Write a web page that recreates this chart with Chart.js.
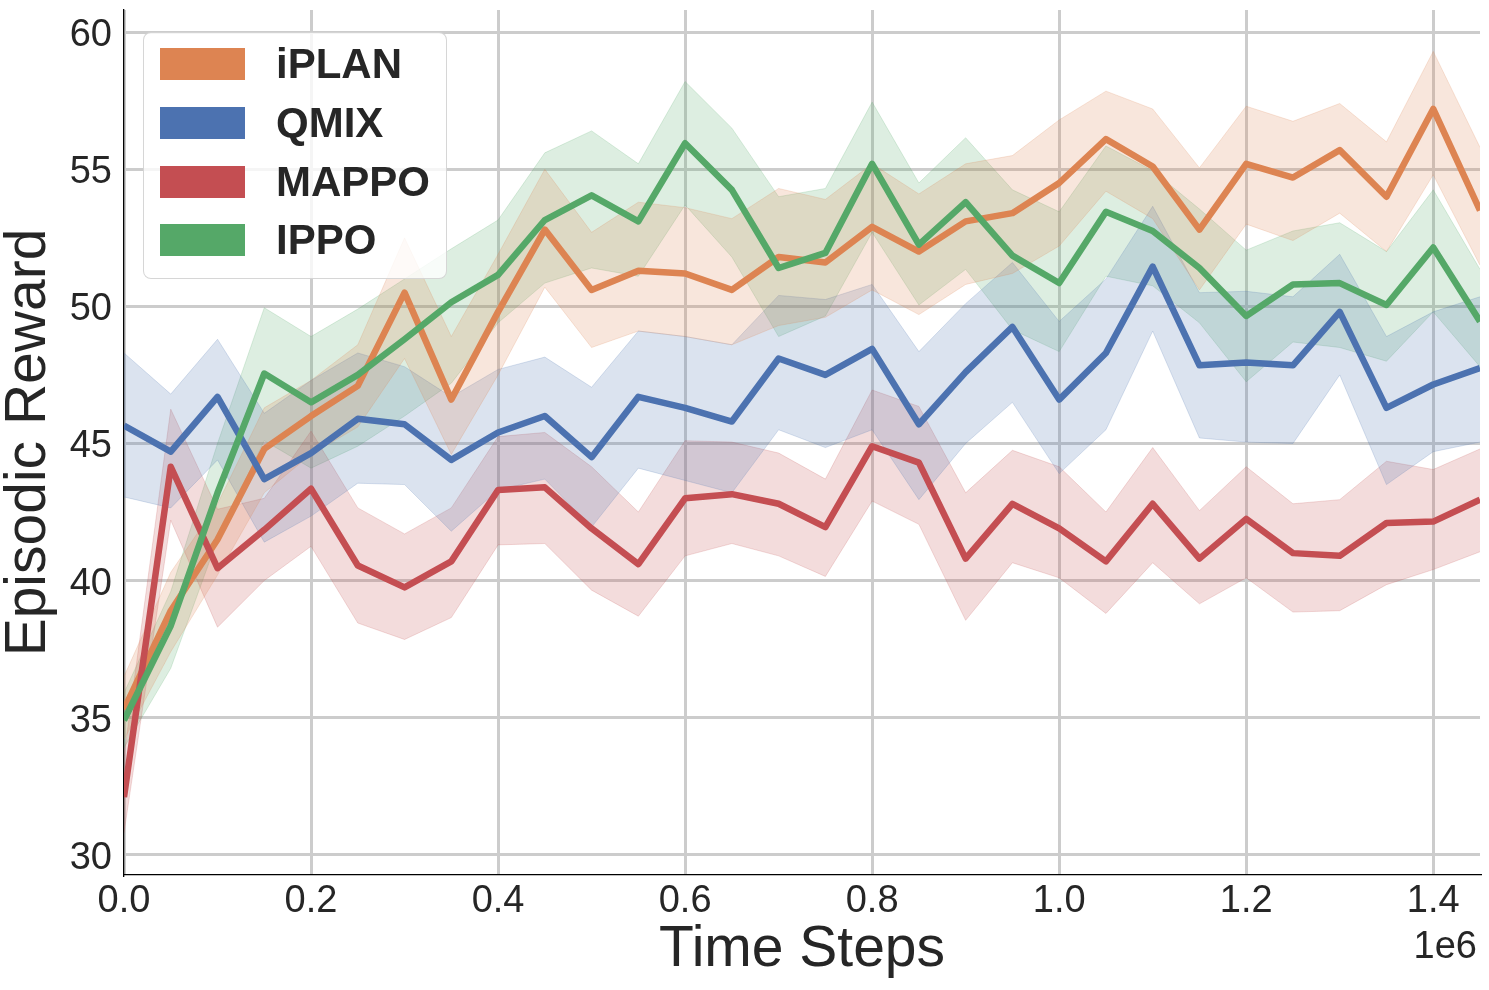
<!DOCTYPE html>
<html>
<head>
<meta charset="utf-8">
<title>Episodic Reward</title>
<script src="https://cdn.jsdelivr.net/npm/chart.js@4.4.1/dist/chart.umd.min.js"></script>
<style>
  html, body { margin: 0; padding: 0; background: #fff; }
  #wrap { position: relative; width: 1489px; height: 990px; }
  #legend {
    position: absolute; left: 143px; top: 32px; width: 302px; height: 245px;
    box-sizing: content-box; padding: 0;
    background: rgba(255,255,255,0.8);
    border: 1px solid rgba(204,204,204,0.8); border-radius: 8px;
    font-family: 'Liberation Sans', Arial, Helvetica, sans-serif;
  }
  .row { position: absolute; left: 0; height: 32px; display: flex; align-items: center; }
  .patch { width: 85px; height: 32px; margin-left: 16px; }
  .lab { margin-left: 31px; font-size: 42px; font-weight: bold; color: #262626; line-height: 32px; }
</style>
</head>
<body>
<div id="wrap">
  <canvas id="chart" width="1489" height="990"></canvas>
  <div id="legend"></div>
</div>
<script>
const FONT = "'Liberation Sans', Arial, Helvetica, sans-serif";

const timeSteps = [0, 50000, 100000, 150000, 200000, 250000, 300000, 350000, 400000, 450000,
  500000, 550000, 600000, 650000, 700000, 750000, 800000, 850000, 900000, 950000,
  1000000, 1050000, 1100000, 1150000, 1200000, 1250000, 1300000, 1350000, 1400000, 1450000];

const seriesNames = ['iPLAN', 'QMIX', 'MAPPO', 'IPPO'];
const lineColors = ['#DD8452', '#4C72B0', '#C44E52', '#55A868'];
const bandColors = ['rgba(221,132,82,0.2)', 'rgba(76,114,176,0.2)', 'rgba(196,78,82,0.2)', 'rgba(85,168,104,0.2)'];

const iplanMean = [35.3, 38.9, 41.5, 44.8, 46.0, 47.1, 50.5, 46.6, 49.8, 52.8,
  50.6, 51.3, 51.2, 50.6, 51.8, 51.6, 52.9, 52.0, 53.1, 53.4,
  54.5, 56.1, 55.1, 52.8, 55.2, 54.7, 55.7, 54.0, 57.2, 53.5];
const iplanUpper = [36.5, 40.3, 42.8, 46.3, 47.3, 48.6, 52.5, 48.9, 51.9, 55.0,
  52.7, 53.8, 53.6, 53.2, 54.3, 53.9, 55.2, 54.1, 55.2, 55.5,
  56.8, 57.85, 57.2, 55.05, 57.3, 56.75, 57.4, 56.0, 59.3, 55.8];
const iplanLower = [34.2, 37.4, 40.2, 43.2, 44.6, 45.6, 48.1, 44.6, 47.5, 50.7,
  48.5, 49.1, 48.9, 48.6, 49.3, 49.6, 50.6, 49.7, 50.8, 51.2,
  52.2, 54.2, 53.2, 50.6, 53.0, 52.4, 53.4, 52.0, 54.8, 51.5];

const qmixMean = [45.65, 44.7, 46.7, 43.7, 44.65, 45.9, 45.7, 44.4, 45.4, 46.0,
  44.5, 46.7, 46.3, 45.8, 48.1, 47.5, 48.45, 45.7, 47.6, 49.25,
  46.6, 48.3, 51.45, 47.85, 47.95, 47.85, 49.8, 46.3, 47.15, 47.75];
const qmixUpper = [48.3, 46.8, 48.8, 46.1, 47.3, 48.3, 47.8, 46.7, 47.7, 48.15,
  47.05, 49.1, 48.9, 48.6, 50.4, 50.25, 50.8, 48.35, 50.1, 51.6,
  49.45, 51.0, 53.65, 50.5, 50.55, 50.35, 51.9, 48.9, 49.8, 50.35];
const qmixLower = [43.05, 42.65, 44.4, 41.4, 42.35, 43.55, 43.5, 41.8, 43.3, 43.7,
  41.95, 44.1, 43.65, 43.2, 45.5, 44.85, 45.5, 42.95, 45.0, 46.5,
  43.9, 45.5, 49.1, 45.2, 45.05, 45.0, 47.5, 43.5, 44.7, 45.05];

const mappoMean = [32.1, 44.15, 40.45, 41.85, 43.35, 40.55, 39.75, 40.7, 43.3, 43.4,
  41.9, 40.6, 43.0, 43.15, 42.8, 41.95, 44.9, 44.3, 40.8, 42.8,
  41.9, 40.7, 42.8, 40.8, 42.25, 41.0, 40.9, 42.1, 42.15, 42.95];
const mappoUpper = [33.6, 46.25, 42.6, 43.0, 45.45, 42.65, 41.7, 42.65, 45.25, 45.4,
  44.15, 42.5, 45.1, 45.05, 44.65, 43.7, 46.95, 46.35, 43.2, 44.75,
  44.15, 42.5, 44.85, 42.55, 44.15, 42.8, 42.95, 44.35, 44.05, 44.8];
const mappoLower = [30.8, 42.2, 38.3, 40.0, 41.25, 38.45, 37.85, 38.65, 41.3, 41.35,
  39.65, 38.7, 40.9, 41.35, 40.9, 40.15, 42.9, 42.05, 38.55, 40.65,
  40.1, 38.8, 40.65, 39.15, 40.1, 38.85, 38.9, 39.85, 40.4, 41.05];

const ippoMean = [34.9, 38.35, 43.2, 47.55, 46.5, 47.5, 48.8, 50.15, 51.15, 53.15,
  54.05, 53.1, 55.95, 54.25, 51.4, 51.95, 55.2, 52.25, 53.8, 51.85,
  50.85, 53.45, 52.75, 51.4, 49.65, 50.8, 50.85, 50.05, 52.15, 49.45];
const ippoUpper = [35.9, 39.6, 45.0, 49.95, 48.9, 49.9, 51.0, 52.1, 53.15, 55.6,
  56.4, 55.2, 58.2, 56.5, 54.0, 54.3, 57.45, 54.5, 56.15, 54.25,
  53.45, 55.85, 54.95, 53.55, 52.05, 52.75, 53.05, 52.0, 54.25, 51.35];
const ippoLower = [33.9, 36.8, 41.5, 45.1, 44.1, 44.9, 46.0, 47.2, 49.4, 50.85,
  51.4, 51.1, 53.7, 51.8, 48.9, 49.65, 52.7, 50.05, 51.35, 49.15,
  48.35, 51.1, 50.75, 49.4, 47.25, 48.7, 48.5, 48.0, 49.8, 47.8];

const xTicks = [0, 200000, 400000, 600000, 800000, 1000000, 1200000, 1400000];
const yTicks = [30, 35, 40, 45, 50, 55, 60];

const means = [iplanMean, qmixMean, mappoMean, ippoMean];
const uppers = [iplanUpper, qmixUpper, mappoUpper, ippoUpper];
const lowers = [iplanLower, qmixLower, mappoLower, ippoLower];

const pts = arr => timeSteps.map((x, i) => ({ x: x, y: arr[i] }));

const datasets = [];
// shaded bands first, all beneath the lines
seriesNames.forEach((name, k) => {
  datasets.push({
    label: name + ' upper', data: pts(uppers[k]),
    borderColor: bandColors[k], borderWidth: 1, backgroundColor: bandColors[k],
    pointRadius: 0, fill: '+1', order: 10, tension: 0
  });
  datasets.push({
    label: name + ' lower', data: pts(lowers[k]),
    borderColor: bandColors[k], borderWidth: 1, backgroundColor: bandColors[k],
    pointRadius: 0, fill: false, order: 10, tension: 0
  });
});
seriesNames.forEach((name, k) => {
  datasets.push({
    label: name, data: pts(means[k]),
    borderColor: lineColors[k], borderWidth: 6.5, borderJoinStyle: 'round',
    pointRadius: 0, fill: false, order: 4 - k, tension: 0
  });
});

const offsetText = {
  id: 'offsetText',
  afterDraw(chart) {
    const c = chart.ctx;
    c.save();
    c.font = '38px ' + FONT;
    c.fillStyle = '#262626';
    c.textAlign = 'right';
    c.textBaseline = 'alphabetic';
    c.fillText('1e6', chart.chartArea.right - 3, 958);
    c.restore();
  }
};

new Chart(document.getElementById('chart'), {
  type: 'line',
  data: { datasets: datasets },
  plugins: [offsetText],
  options: {
    responsive: false,
    animation: false,
    devicePixelRatio: 1,
    layout: { padding: { top: 10, right: 9, left: 0, bottom: 0 } },
    plugins: {
      legend: { display: false },
      tooltip: { enabled: false },
      filler: { propagate: false }
    },
    scales: {
      x: {
        type: 'linear', min: 0, max: 1450000,
        afterBuildTicks: s => { s.ticks = xTicks.map(v => ({ value: v })); },
        afterFit: s => { s.height = 115; s.paddingLeft = 0; s.paddingRight = 0; },
        ticks: {
          font: { family: FONT, size: 38, lineHeight: 1.2 }, color: '#262626',
          padding: 4, maxRotation: 0, autoSkip: false,
          callback: v => (v / 1e6).toFixed(1)
        },
        grid: { color: '#cccccc', lineWidth: 3, drawTicks: false },
        border: { display: true, color: '#000', width: 1.3 },
        title: {
          display: true, text: 'Time Steps', color: '#262626',
          font: { family: FONT, size: 57, lineHeight: 1 },
          padding: { top: 0, bottom: 11 }
        }
      },
      y: {
        type: 'linear', min: 29.26, max: 60.81,
        afterBuildTicks: s => { s.ticks = yTicks.map(v => ({ value: v })); },
        afterFit: s => { s.width = 124; s.paddingTop = 0; s.paddingBottom = 0; },
        ticks: {
          font: { family: FONT, size: 38, lineHeight: 1.2 }, color: '#262626',
          padding: 12, labelOffset: 3.5,
          callback: v => String(v)
        },
        grid: { color: '#cccccc', lineWidth: 3, drawTicks: false },
        border: { display: true, color: '#000', width: 1.3 },
        title: {
          display: true, text: 'Episodic Reward', color: '#262626',
          font: { family: FONT, size: 57, lineHeight: 1 },
          padding: { top: 1, bottom: 0 }
        }
      }
    }
  }
});

// legend box, top left inside the plot
const legend = document.getElementById('legend');
seriesNames.forEach((name, k) => {
  const row = document.createElement('div');
  row.className = 'row';
  row.style.top = (15 + k * 58.8) + 'px';
  const patch = document.createElement('div');
  patch.className = 'patch';
  patch.style.background = lineColors[k];
  const lab = document.createElement('span');
  lab.className = 'lab';
  lab.textContent = name;
  row.appendChild(patch);
  row.appendChild(lab);
  legend.appendChild(row);
});
</script>
</body>
</html>
